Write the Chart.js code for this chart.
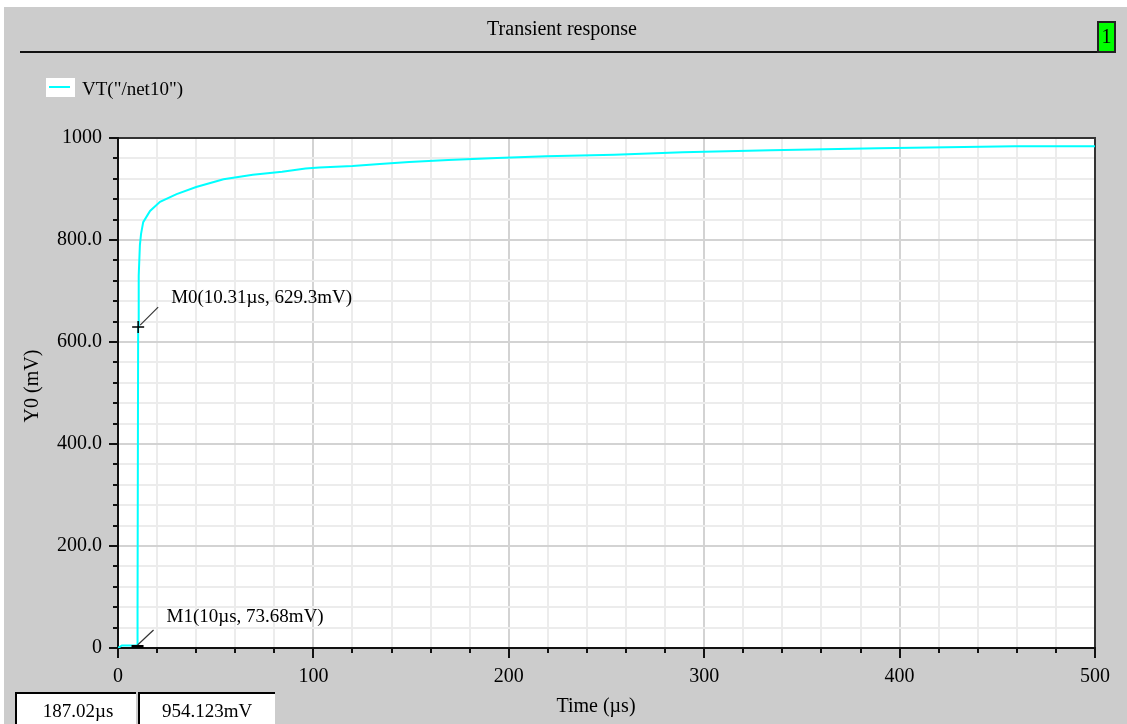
<!DOCTYPE html>
<html>
<head>
<meta charset="utf-8">
<script src="https://cdn.jsdelivr.net/npm/chart.js@4.4.1/dist/chart.umd.min.js"></script>
<style>
html,body{margin:0;padding:0;background:#ffffff;}
#wrap{width:1127px;height:724px;position:relative;}
</style>
</head>
<body>
<div id="wrap"><canvas id="c" width="1127" height="724"></canvas></div>
<script>
// ---- data ----
const timeUs = [0, 2, 9.9, 10, 10.31, 10.6, 11.2, 11.8, 12.9, 16.4, 21.5, 30, 40, 54, 69, 84, 96, 103, 120, 134, 149, 169, 194, 219, 254, 289, 334, 389, 459, 500];
const voltageMv = [0, 5, 5, 73.68, 629.3, 730, 790, 812, 835, 857, 875, 890, 904, 919, 928, 934, 940, 942, 945, 949, 953, 957, 961, 964, 967, 972, 976, 980, 984, 984];
const seriesName = 'VT("/net10")';
const chartTitle = 'Transient response';
const xTitle = 'Time (\u00b5s)';
const yTitle = 'Y0 (mV)';
const xTickValues = [0, 100, 200, 300, 400, 500];
const xTickLabels = ['0', '100', '200', '300', '400', '500'];
const yTickValues = [0, 200, 400, 600, 800, 1000];
const yTickLabels = ['0', '200.0', '400.0', '600.0', '800.0', '1000'];
const markerNames = ['M0', 'M1'];
const markerTimes = [10.31, 10];
const markerValues = [629.3, 73.68];
const markerLabels = ['M0(10.31\u00b5s, 629.3mV)', 'M1(10\u00b5s, 73.68mV)'];
const readoutLabels = ['187.02\u00b5s', '954.123mV'];
const panelNumber = '1';

const SERIF = '"Liberation Serif", "DejaVu Serif", serif';

function labelFor(values, labels, v) {
  for (let i = 0; i < values.length; i++) if (Math.abs(values[i] - v) < 1e-6) return labels[i];
  return '';
}

const decor = {
  id: 'decor',
  beforeDraw(chart) {
    const ctx = chart.ctx, ca = chart.chartArea;
    ctx.save();
    ctx.fillStyle = '#ffffff';
    ctx.fillRect(0, 0, chart.width, chart.height);
    ctx.fillStyle = '#cccccc';
    ctx.fillRect(4, 7, chart.width - 4, chart.height - 7);
    ctx.fillStyle = '#ffffff';
    ctx.fillRect(ca.left, ca.top, ca.right - ca.left, ca.bottom - ca.top);
    // title
    ctx.fillStyle = '#000';
    ctx.font = '20px ' + SERIF;
    ctx.textAlign = 'center';
    ctx.textBaseline = 'middle';
    ctx.fillText(chartTitle, 562, 30);
    // header line
    ctx.strokeStyle = '#111';
    ctx.lineWidth = 2;
    ctx.beginPath(); ctx.moveTo(20, 52); ctx.lineTo(1098, 52); ctx.stroke();
    // panel number box
    ctx.fillStyle = '#00ff00';
    ctx.fillRect(1098, 22, 17, 30);
    ctx.strokeStyle = '#222';
    ctx.lineWidth = 2;
    ctx.strokeRect(1098, 22, 17, 30);
    ctx.fillStyle = '#000';
    ctx.font = '20px ' + SERIF;
    ctx.fillText(panelNumber, 1106.5, 38);
    // legend
    ctx.fillStyle = '#ffffff';
    ctx.fillRect(46, 78, 29, 19);
    ctx.strokeStyle = '#00ffff';
    ctx.lineWidth = 2;
    ctx.beginPath(); ctx.moveTo(49, 87); ctx.lineTo(70, 87); ctx.stroke();
    ctx.fillStyle = '#000';
    ctx.textAlign = 'left';
    ctx.font = '19px ' + SERIF;
    ctx.fillText(seriesName, 82, 90);
    // axis titles
    ctx.font = '20px ' + SERIF;
    ctx.textAlign = 'center';
    ctx.fillText(xTitle, 596, 707);
    ctx.save();
    ctx.translate(33, 386);
    ctx.rotate(-Math.PI / 2);
    ctx.fillText(yTitle, 0, 0);
    ctx.restore();
    // readout boxes
    ctx.fillStyle = '#ffffff';
    ctx.fillRect(15, 693, 121, 31);
    ctx.fillRect(138, 693, 137, 31);
    ctx.strokeStyle = '#000';
    ctx.lineWidth = 2;
    ctx.beginPath();
    ctx.moveTo(16, 724); ctx.lineTo(16, 693); ctx.lineTo(136, 693);
    ctx.moveTo(139, 724); ctx.lineTo(139, 693); ctx.lineTo(275, 693);
    ctx.stroke();
    ctx.fillStyle = '#000';
    ctx.font = '19px ' + SERIF;
    ctx.fillText(readoutLabels[0], 78, 712);
    ctx.fillText(readoutLabels[1], 207, 712);
    ctx.restore();
  },
  beforeDatasetsDraw(chart) {
    const ctx = chart.ctx, ca = chart.chartArea;
    const xs = chart.scales.x, ys = chart.scales.y;
    ctx.save();
    // frame
    ctx.strokeStyle = '#333';
    ctx.lineWidth = 2;
    ctx.beginPath();
    ctx.moveTo(ca.left, ca.top); ctx.lineTo(ca.right, ca.top); ctx.lineTo(ca.right, ca.bottom);
    ctx.stroke();
    ctx.strokeStyle = '#111';
    ctx.beginPath();
    ctx.moveTo(ca.left, ca.top - 1); ctx.lineTo(ca.left, ca.bottom); ctx.lineTo(ca.right + 1, ca.bottom);
    ctx.stroke();
    // tick marks
    ctx.lineWidth = 2;
    ctx.strokeStyle = '#111';
    ys.ticks.forEach(t => {
      const y = Math.round(ys.getPixelForValue(t.value));
      const major = yTickValues.includes(t.value);
      ctx.beginPath(); ctx.moveTo(ca.left - (major ? 9 : 5), y); ctx.lineTo(ca.left, y); ctx.stroke();
    });
    xs.ticks.forEach(t => {
      const x = Math.round(xs.getPixelForValue(t.value));
      const major = xTickValues.includes(t.value);
      ctx.beginPath(); ctx.moveTo(x, ca.bottom); ctx.lineTo(x, ca.bottom + (major ? 10 : 5)); ctx.stroke();
    });
    ctx.restore();
  },
  afterDatasetsDraw(chart) {
    const ctx = chart.ctx;
    const xs = chart.scales.x, ys = chart.scales.y;
    ctx.save();
    // M0 marker: cross at its value
    const x0 = xs.getPixelForValue(markerTimes[0]);
    const y0 = ys.getPixelForValue(markerValues[0]);
    ctx.strokeStyle = '#000';
    ctx.lineWidth = 1.5;
    ctx.beginPath();
    ctx.moveTo(x0 - 6, y0); ctx.lineTo(x0 + 6, y0);
    ctx.moveTo(x0, y0 - 6); ctx.lineTo(x0, y0 + 6);
    ctx.stroke();
    ctx.strokeStyle = '#333';
    ctx.lineWidth = 1.2;
    ctx.beginPath(); ctx.moveTo(x0 + 20, y0 - 20); ctx.lineTo(x0 + 2, y0 - 2); ctx.stroke();
    // M1 marker: drawn on the baseline in the reference
    const x1 = xs.getPixelForValue(markerTimes[1]);
    const yb = ys.getPixelForValue(0);
    ctx.strokeStyle = '#000';
    ctx.lineWidth = 3;
    ctx.beginPath(); ctx.moveTo(x1 - 6, yb - 1.5); ctx.lineTo(x1 + 6, yb - 1.5); ctx.stroke();
    ctx.strokeStyle = '#333';
    ctx.lineWidth = 1.2;
    ctx.beginPath(); ctx.moveTo(x1 + 16, yb - 18); ctx.lineTo(x1, yb - 3); ctx.stroke();
    // labels
    ctx.fillStyle = '#000';
    ctx.font = '19px ' + SERIF;
    ctx.textAlign = 'left';
    ctx.textBaseline = 'middle';
    ctx.fillText(markerLabels[0], x0 + 33, y0 - 29);
    ctx.fillText(markerLabels[1], x1 + 29, yb - 31);
    ctx.restore();
  }
};

const points = timeUs.map((t, i) => ({x: t, y: voltageMv[i]}));

new Chart(document.getElementById('c'), {
  type: 'line',
  data: {
    datasets: [{
      label: seriesName,
      data: points,
      borderColor: '#00ffff',
      borderWidth: 2,
      pointRadius: 0,
      tension: 0,
      fill: false
    }]
  },
  options: {
    responsive: false,
    animation: false,
    devicePixelRatio: 1,
    layout: {padding: {left: 0, top: 138, right: 31, bottom: 0}},
    plugins: {legend: {display: false}, title: {display: false}, tooltip: {enabled: false}},
    scales: {
      x: {
        type: 'linear', min: 0, max: 500,
        afterFit(s) { s.height = 76; },
        border: {display: false},
        grid: {
          drawTicks: false,
          lineWidth: 2,
          color: c => (xTickValues.includes(c.tick.value) ? '#d3d3d3' : '#ececec')
        },
        ticks: {
          stepSize: 20, autoSkip: false, maxRotation: 0,
          padding: 17, color: '#000',
          font: {family: SERIF, size: 20},
          callback: v => labelFor(xTickValues, xTickLabels, v)
        }
      },
      y: {
        type: 'linear', min: 0, max: 1000,
        afterFit(s) { s.width = 118; },
        border: {display: false},
        grid: {
          drawTicks: false,
          lineWidth: 2,
          color: c => (yTickValues.includes(c.tick.value) ? '#d3d3d3' : '#ececec')
        },
        ticks: {
          stepSize: 40, autoSkip: false,
          padding: 16, color: '#000',
          font: {family: SERIF, size: 20},
          callback: v => labelFor(yTickValues, yTickLabels, v)
        }
      }
    }
  },
  plugins: [decor]
});
</script>
</body>
</html>
